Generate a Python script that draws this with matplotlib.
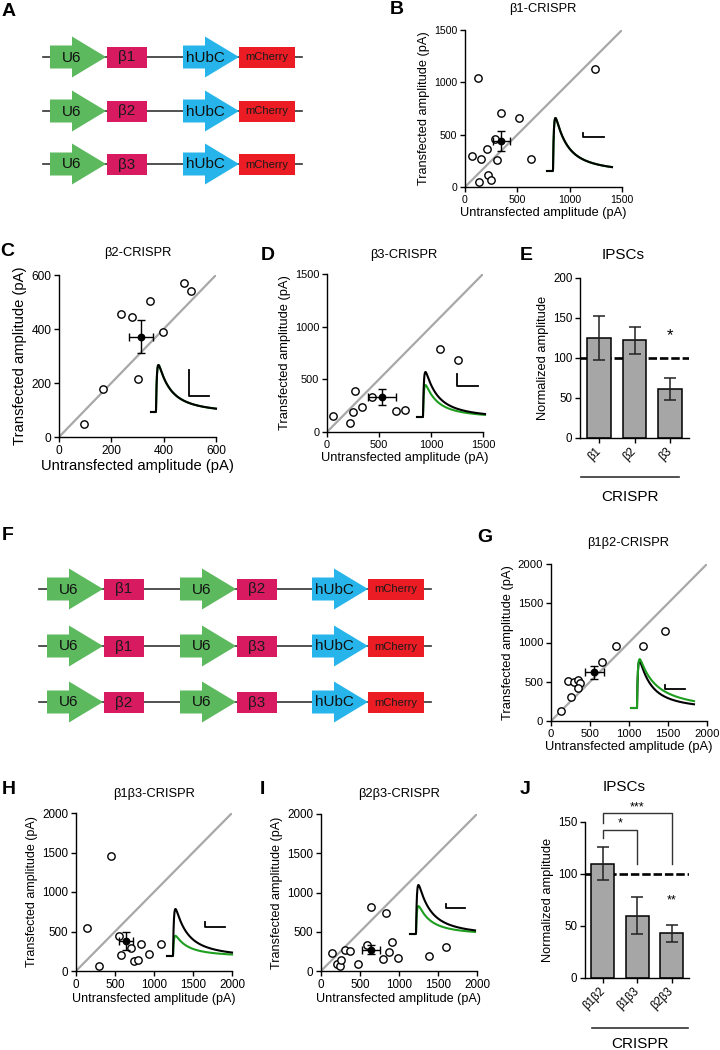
import numpy as np
import matplotlib
matplotlib.use('Agg')
import matplotlib.pyplot as plt
from matplotlib.patches import Polygon, Rectangle

plt.rcParams['font.family'] = ['Liberation Sans', 'DejaVu Sans']

# ---------------- DATA ----------------
constructs_A = [['β1'], ['β2'], ['β3']]
constructs_F = [['β1', 'β2'], ['β1', 'β3'], ['β2', 'β3']]

# B: beta1-CRISPR
b_untr = [121, 1245, 63, 150, 210, 348, 517, 287, 303, 635, 220, 132, 248]
b_tr = [1043, 1126, 297, 270, 360, 708, 664, 456, 255, 265, 118, 50, 63]
b_mean = [348, 437]
b_err = [85, 95]

# C: beta2-CRISPR
c_untr = [94, 170, 236, 278, 347, 301, 396, 479, 504]
c_tr = [49, 178, 455, 443, 503, 213, 389, 569, 542]
c_mean = [313, 371]
c_err = [45, 61]

# D: beta3-CRISPR
d_untr = [57, 223, 249, 265, 338, 431, 664, 747, 1085, 1264]
d_tr = [153, 86, 187, 391, 235, 337, 200, 213, 788, 686]
d_mean = [530, 334]
d_err = [131, 73]

# E: IPSCs
e_labels = ['β1', 'β2', 'β3']
e_means = [125, 122, 61]
e_sem = [28, 17, 14]

# G: beta1beta2-CRISPR
g_untr = [132, 256, 222, 299, 345, 371, 350, 652, 836, 1185, 1463]
g_tr = [132, 303, 508, 495, 520, 478, 418, 746, 959, 951, 1147]
g_mean = [554, 618]
g_err = [120, 80]

# H: beta1beta3-CRISPR
h_untr = [448, 136, 290, 554, 571, 708, 832, 746, 797, 934, 1087]
h_tr = [1458, 547, 59, 445, 208, 292, 343, 131, 144, 220, 343]
h_mean = [644, 381]
h_err = [90, 115]

# I: beta2beta3-CRISPR
i_untr = [140, 208, 247, 260, 302, 374, 472, 587, 643, 791, 838, 877, 915, 983, 1383, 1600]
i_tr = [225, 94, 64, 136, 268, 251, 94, 336, 817, 153, 736, 247, 370, 170, 196, 311]
i_mean = [638, 272]
i_err = [112, 53]

# J: IPSCs
j_labels = ['β1β2', 'β1β3', 'β2β3']
j_means = [110, 60, 43]
j_sem = [15.5, 18, 8]

# example IPSC traces: green (transfected) peak relative to black (untransfected)
trace_green_rel = [1.0, 1.0, 0.71, 1.04, 0.43, 0.57]

# ---------------- FIGURE ----------------
W, H = 720, 1050
fig = plt.figure(figsize=(7.2, 10.5), dpi=100)


def px_axes(l, t, r, b):
    return fig.add_axes([l / W, 1 - b / H, (r - l) / W, (b - t) / H])


def style_axes(ax, tick_fs):
    for s in ['top', 'right']:
        ax.spines[s].set_visible(False)
    for s in ['left', 'bottom']:
        ax.spines[s].set_linewidth(1.0)
    ax.tick_params(direction='out', length=3.5, width=1.0, labelsize=tick_fs, pad=2)


def scatter_panel(rect, lim, step, xs, ys, mean, err, tick_fs=8, lab_fs=9.3):
    ax = px_axes(*rect)
    ax.plot([0, lim], [0, lim], color='#a8a8a8', lw=1.6, zorder=1)
    ax.plot(xs, ys, 'o', mfc='white', mec='black', mew=1.0, ms=5.3, zorder=3, clip_on=False)
    ax.errorbar([mean[0]], [mean[1]], xerr=[err[0]], yerr=[err[1]], fmt='o', color='black',
                ms=4.6, capsize=2.8, elinewidth=1.0, capthick=1.0, zorder=4)
    ax.set_xlim(0, lim)
    ax.set_ylim(0, lim)
    ticks = np.arange(0, lim + 1, step)
    ax.set_xticks(ticks)
    ax.set_yticks(ticks)
    style_axes(ax, tick_fs)
    ax.set_xlabel('Untransfected amplitude (pA)', fontsize=lab_fs, labelpad=2)
    ax.set_ylabel('Transfected amplitude (pA)', fontsize=lab_fs, labelpad=3)
    return ax


def bar_panel(rect, xlim, ylim, step, labels, means, sems):
    ax = px_axes(*rect)
    x = np.arange(len(labels))
    ax.plot(xlim, [100, 100], ls=(0, (3.2, 1.1)), color='black', lw=1.9, zorder=1)
    ax.bar(x, means, width=0.67, color='#a6a6a6', edgecolor='black', lw=1.1, zorder=2)
    ax.errorbar(x, means, yerr=sems, fmt='none', ecolor='#222222', elinewidth=1.1,
                capsize=4.3, capthick=1.1, zorder=3)
    ax.set_xlim(*xlim)
    ax.set_ylim(*ylim)
    ax.set_yticks(np.arange(0, ylim[1] + 1, step))
    ax.set_xticks(x)
    ax.set_xticklabels(labels, rotation=45, ha='right', va='center', rotation_mode='anchor')
    style_axes(ax, 8.3)
    ax.tick_params(axis='x', pad=5)
    ax.set_ylabel('Normalized amplitude', fontsize=9.3, labelpad=3)
    return ax


axB = scatter_panel((465, 30, 622, 187), 1500, 500, b_untr, b_tr, b_mean, b_err, 7.6, 9.2)
axC = scatter_panel((59, 275, 216, 437), 600, 200, c_untr, c_tr, c_mean, c_err, 8.6, 10.6)
axD = scatter_panel((327, 274, 483, 432), 1500, 500, d_untr, d_tr, d_mean, d_err, 7.9, 9.3)
axG = scatter_panel((551, 564, 707, 721), 2000, 500, g_untr, g_tr, g_mean, g_err, 8.1, 9.3)
axH = scatter_panel((76, 813, 232, 971), 2000, 500, h_untr, h_tr, h_mean, h_err, 8.4, 9.0)
axI = scatter_panel((321, 814, 477, 971), 2000, 500, i_untr, i_tr, i_mean, i_err, 8.4, 9.1)

axE = bar_panel((580, 278, 689, 438), (-0.54, 2.54), (0, 200), 50, e_labels, e_means, e_sem)
axE.text(2, 128, '*', ha='center', va='center', fontsize=12)

axJ = bar_panel((585, 822, 689, 978), (-0.52, 2.50), (0, 150), 50, j_labels, j_means, j_sem)
axJ.text(2, 75, '**', ha='center', va='center', fontsize=9)
# significance brackets
axJ.plot([0, 0, 1, 1], [135, 142.3, 142.3, 110], color='#333333', lw=1.0, clip_on=False)
axJ.text(0.5, 142.5, '*', ha='center', va='bottom', fontsize=9)
axJ.plot([0, 0, 2, 2], [148.7, 158.5, 158.5, 110], color='#333333', lw=1.0, clip_on=False)
axJ.text(1, 158.7, '***', ha='center', va='bottom', fontsize=9)

# ---------------- OVERLAY (schematics, letters, titles, insets) ----------------
ov = fig.add_axes([0, 0, 1, 1], zorder=10)
ov.set_xlim(0, W)
ov.set_ylim(H, 0)
ov.axis('off')

GREEN = '#5cb95e'
PINK = '#d81b60'
BLUE = '#27b4ea'
RED = '#ec1c24'


def draw_arrow(xl, yc, label, color):
    w, hl, bh, hh = 56, 34, 11.5, 20.5
    pts = [(xl, yc - bh), (xl + w - hl, yc - bh), (xl + w - hl, yc - hh), (xl + w, yc),
           (xl + w - hl, yc + hh), (xl + w - hl, yc + bh), (xl, yc + bh)]
    ov.add_patch(Polygon(pts, closed=True, fc=color, ec='none', zorder=2))
    ov.text(xl + 22, yc + 0.5, label, ha='center', va='center', fontsize=11, color='#111111', zorder=3)


def draw_box(xl, w, yc, label, color, fs):
    ov.add_patch(Rectangle((xl, yc - 10.5), w, 21, fc=color, ec='none', zorder=2))
    ov.text(xl + w / 2, yc + 0.5, label, ha='center', va='center', fontsize=fs, color='#1a1a1a', zorder=3)


# Panel A
rowsA = [57, 111, 164]
for yc, c in zip(rowsA, constructs_A):
    ov.plot([43, 302], [yc, yc], color='#333333', lw=1.2, zorder=1)
    draw_arrow(50, yc, 'U6', GREEN)
    draw_box(107, 40, yc, c[0], PINK, 11)
    draw_arrow(183, yc, 'hUbC', BLUE)
    draw_box(239, 56, yc, 'mCherry', RED, 8)

# Panel F
rowsF = [589, 646, 702]
for yc, c in zip(rowsF, constructs_F):
    ov.plot([39, 431], [yc, yc], color='#333333', lw=1.2, zorder=1)
    draw_arrow(47, yc, 'U6', GREEN)
    draw_box(104, 40, yc, c[0], PINK, 11)
    draw_arrow(180, yc, 'U6', GREEN)
    draw_box(237, 40, yc, c[1], PINK, 11)
    draw_arrow(312, yc, 'hUbC', BLUE)
    draw_box(368, 56, yc, 'mCherry', RED, 8)

# panel letters
letters = [('A', 9, 12), ('B', 397, 10), ('C', 7, 252), ('D', 268, 255), ('E', 526, 255),
           ('F', 8, 536), ('G', 485, 537), ('H', 9, 790), ('I', 262, 790), ('J', 525, 790)]
for s, x, y in letters:
    ov.text(x, y, s, ha='center', va='center', fontsize=14, fontweight='bold')

# titles
titles = [('β1-CRISPR', 543, 9), ('β2-CRISPR', 138, 253), ('β3-CRISPR', 404, 255),
          ('β1β2-CRISPR', 628, 543), ('β1β3-CRISPR', 154, 794), ('β2β3-CRISPR', 399, 794)]
for s, x, y in titles:
    ov.text(x, y, s, ha='center', va='center', fontsize=9.3)
ov.text(623, 255, 'IPSCs', ha='center', va='center', fontsize=11)
ov.text(624, 787, 'IPSCs', ha='center', va='center', fontsize=11)

# CRISPR underlines
ov.plot([581, 679], [477, 477], color='#333333', lw=1.2)
ov.text(630, 497, 'CRISPR', ha='center', va='center', fontsize=11)
ov.plot([592, 688], [1028, 1028], color='#333333', lw=1.2)
ov.text(640, 1044, 'CRISPR', ha='center', va='center', fontsize=11)


# example IPSC traces (inset)
def ipsc_shape(t, tf, ts, wf):
    tt = np.clip(t, 0, None)
    y = (1 - np.exp(-tt / 0.9)) * (wf * np.exp(-tt / tf) + (1 - wf) * np.exp(-tt / ts))
    y[t < 0] = 0
    return y


trace_layout = [  # x_start, x_rise, x_end, y_base, black peak height px
    (547, 553, 612, 171, 53),
    (151, 156, 216, 412, 47),
    (417, 423, 485, 417, 45),
    (631, 637, 694, 708, 47),
    (167, 173, 232, 956, 47),
    (410, 416, 475, 934, 49),
]
green_on_top = [False, False, False, True, False, False]
for (x0, xr, x1, yb, amp), rel, gtop in zip(trace_layout, trace_green_rel, green_on_top):
    xx = np.linspace(x0, x1, 400)
    t = xx - xr
    yk = ipsc_shape(t, 9, 30, 0.6)
    yk = yk / yk.max()
    if gtop:
        yg = ipsc_shape(t, 10, 38, 0.5)
    else:
        yg = ipsc_shape(t, 9, 30, 0.6)
    yg = yg / yg.max()
    zk, zg = (5, 6) if gtop else (6, 5)
    ov.plot(xx, yb - amp * yk, color='black', lw=1.5, zorder=zk, solid_joinstyle='round')
    ov.plot(xx, yb - amp * rel * yg, color='#1e9e1e', lw=1.5, zorder=zg, solid_joinstyle='round')

# scale bars
scalebars = [(583, 133, 137, 604), (189, 370, 396, 209), (457, 374, 386, 478),
             (665, 685, 689, 685), (205, 922, 927, 225), (446, 904, 908, 465)]
for x, ytop, ybot, xr in scalebars:
    ov.plot([x, x, xr], [ytop, ybot, ybot], color='black', lw=1.3, zorder=5)

fig.savefig('out.png', dpi=100)
